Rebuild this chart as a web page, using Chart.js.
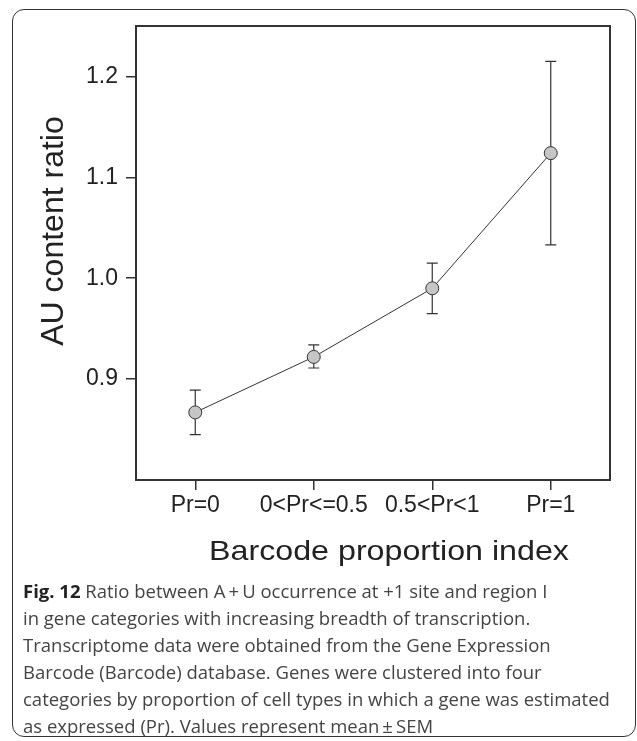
<!DOCTYPE html>
<html>
<head>
<meta charset="utf-8">
<script src="https://cdn.jsdelivr.net/npm/chart.js@4.4.1/dist/chart.umd.min.js"></script>
<style>
    html, body { margin: 0; padding: 0; background: #fff; }
    body { width: 637px; height: 741px; position: relative; overflow: hidden; }
    .panel {
        position: absolute; left: 12px; top: 9px; width: 624px; height: 728px;
        box-sizing: border-box; border: 1.5px solid #333; border-radius: 12px;
    }
    #ratioChart { position: absolute; left: 0; top: 0; }
    .caption {
        position: absolute; left: 23px; top: 577px;
        font-family: "Open Sans", sans-serif; font-size: 18.5px; line-height: 27px;
        color: #444; white-space: nowrap;
    }
    .caption b { color: #222; }
</style>
</head>
<body>
<div class="panel"></div>
<canvas id="ratioChart" width="637" height="580"></canvas>
<div class="caption"><b>Fig. 12</b> Ratio between A&thinsp;+&thinsp;U occurrence at +1 site and region I<br>in gene categories with increasing breadth of transcription.<br>Transcriptome data were obtained from the Gene Expression<br>Barcode (Barcode) database. Genes were clustered into four<br>categories by proportion of cell types in which a gene was estimated<br>as expressed (Pr). Values represent mean&thinsp;&plusmn;&thinsp;SEM</div>
<script>
    'use strict';

    // values
    const categories = ['Pr=0', '0<Pr<=0.5', '0.5<Pr<1', 'Pr=1'];
    const meanRatio = [0.867, 0.922, 0.990, 1.124];
    const semLow = [0.845, 0.911, 0.965, 1.033];
    const semHigh = [0.889, 0.934, 1.015, 1.215];
    const yTicks = [0.9, 1.0, 1.1, 1.2];

    const X_TITLE = 'Barcode proportion index';
    const Y_TITLE = 'AU content ratio';
    const INK = '#333';
    const FONT = '"Liberation Sans", Arial, sans-serif';

    /** Error bars (mean ± SEM), under the markers */
    const errorBars = {
        id: 'errorBars',
        beforeDatasetsDraw(chart) {
            const { ctx, scales: { x, y } } = chart;
            ctx.save();
            ctx.strokeStyle = INK;
            ctx.lineWidth = 1.2;
            categories.forEach((c, i) => {
                const px = x.getPixelForValue(i);
                const top = y.getPixelForValue(semHigh[i]);
                const bot = y.getPixelForValue(semLow[i]);
                ctx.beginPath();
                ctx.moveTo(px, top); ctx.lineTo(px, bot);
                ctx.moveTo(px - 5.5, top); ctx.lineTo(px + 5.5, top);
                ctx.moveTo(px - 5.5, bot); ctx.lineTo(px + 5.5, bot);
                ctx.stroke();
            });
            ctx.restore();
        }
    };

    /** Closed frame round the plot + axis titles */
    const frameAndTitles = {
        id: 'frameAndTitles',
        afterDraw(chart) {
            const { ctx, chartArea: a } = chart;
            ctx.save();
            ctx.strokeStyle = INK;
            ctx.lineWidth = 2;
            ctx.strokeRect(a.left, a.top, a.right - a.left, a.bottom - a.top);

            ctx.fillStyle = '#222';
            ctx.textAlign = 'center';
            ctx.textBaseline = 'alphabetic';

            // the original x title is a bit wider than tall
            ctx.save();
            ctx.font = '28.5px ' + FONT;
            ctx.translate(389, 560);
            ctx.scale(1.13, 1);
            ctx.fillText(X_TITLE, 0, 0);
            ctx.restore();

            ctx.font = '32px ' + FONT;
            ctx.translate(63, 231);
            ctx.rotate(-Math.PI / 2);
            ctx.fillText(Y_TITLE, 0, 0);
            ctx.restore();
        }
    };

    const tickGrid = {
        display: true,
        drawOnChartArea: false,
        drawTicks: true,
        tickLength: 10,
        color: INK,
        lineWidth: 1.5
    };

    new Chart(document.getElementById('ratioChart'), {
        type: 'line',
        data: {
            labels: categories,
            datasets: [{
                data: meanRatio,
                borderColor: INK,
                borderWidth: 1,
                tension: 0,
                pointRadius: 6.5,
                pointBackgroundColor: '#c6c6c6',
                pointBorderColor: INK,
                pointBorderWidth: 1,
                clip: false
            }]
        },
        options: {
            responsive: false,
            animation: false,
            layout: { padding: { top: 26, right: 27, left: 0, bottom: 0 } },
            plugins: { legend: { display: false }, tooltip: { enabled: false } },
            scales: {
                x: {
                    offset: true,
                    border: { display: false },
                    grid: tickGrid,
                    ticks: {
                        font: { family: FONT, size: 23 },
                        color: '#222',
                        padding: 2,
                        maxRotation: 0,
                        autoSkip: false
                    },
                    afterFit(s) { s.height = 100; }
                },
                y: {
                    min: 0.8,
                    max: 1.25,
                    border: { display: false },
                    grid: tickGrid,
                    ticks: {
                        font: { family: FONT, size: 23 },
                        color: '#222',
                        padding: 8,
                        callback: v => Number(v).toFixed(1)
                    },
                    afterBuildTicks(s) { s.ticks = yTicks.map(v => ({ value: v })); },
                    afterFit(s) { s.width = 136; }
                }
            }
        },
        plugins: [errorBars, frameAndTitles]
    });
</script>
</body>
</html>
